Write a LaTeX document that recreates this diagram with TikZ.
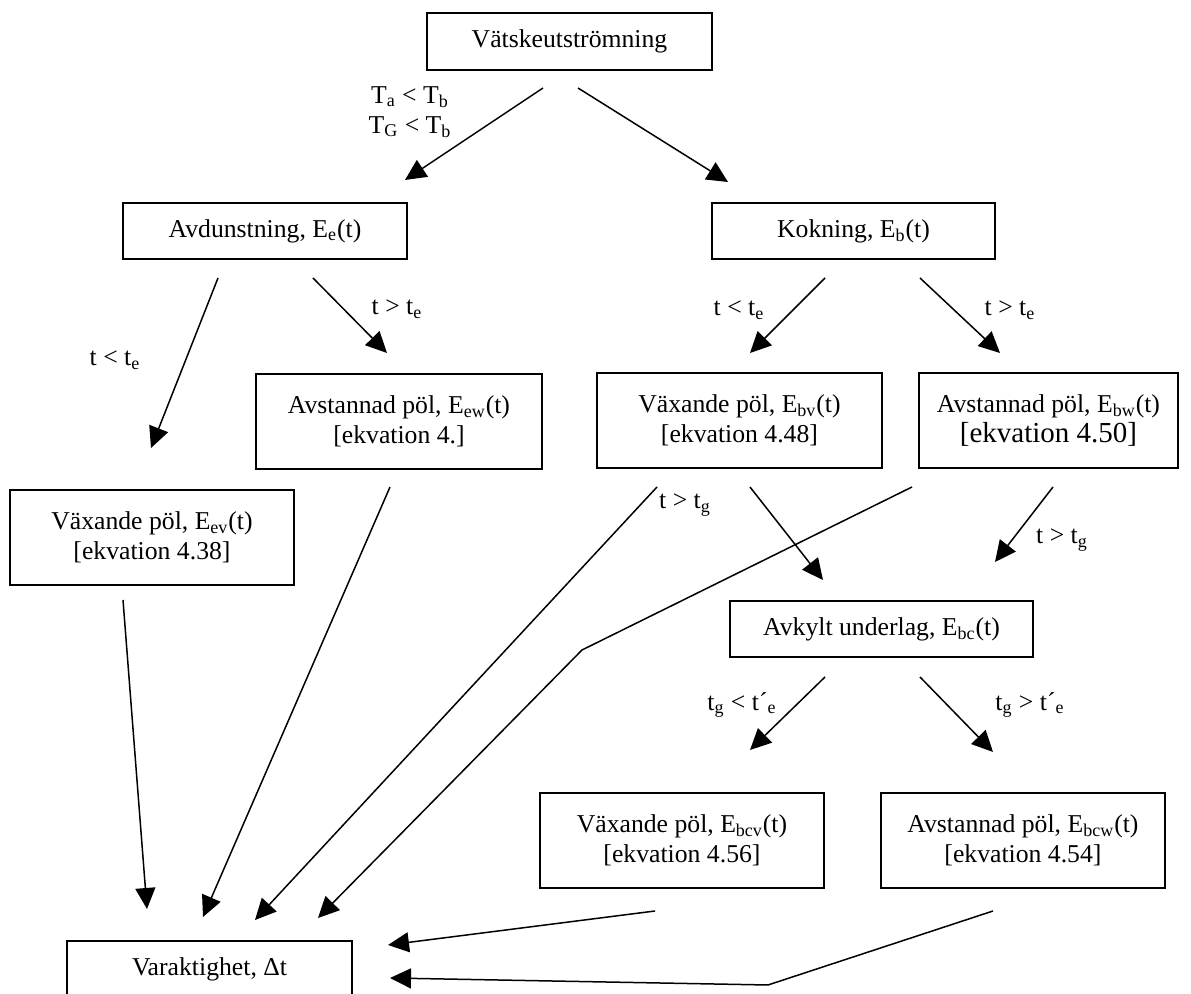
\documentclass[tikz,border=0pt]{standalone}
\usepackage{fontspec}
\setmainfont{Liberation Serif}
\usetikzlibrary{arrows.meta}
\begin{document}
\begin{tikzpicture}[x=0.5pt,y=-0.5pt,
 box/.style={draw, line width=0.75pt, align=center, inner sep=0pt, font=\fontsize{12.85}{15}\selectfont},
 arr/.style={line width=0.75pt, -{Triangle[length=10.5pt,width=10pt]}},
 ln/.style={line width=0.75pt},
 lbl/.style={font=\fontsize{12.85}{15}\selectfont, inner sep=0pt, align=center}]
\useasboundingbox (0,0) rectangle (1191,994);
% boxes
\node[box, minimum width=142.5pt, minimum height=28.5pt] (vat) at (569.5,41.5) {Vätskeutströmning};
\node[box, minimum width=142pt, minimum height=28pt] (avd) at (265,231) {Avdunstning, E\textsubscript{e}(t)};
\node[box, minimum width=141.5pt, minimum height=28pt] (kok) at (853.5,231) {Kokning, E\textsubscript{b}(t)};
\node[box, minimum width=143pt, minimum height=47.5pt] (eew) at (399,421.5) {Avstannad pöl, E\textsubscript{ew}(t)\\{}[ekvation 4.]};
\node[box, minimum width=142.5pt, minimum height=47.5pt] (ebv) at (739.5,420.5) {Växande pöl, E\textsubscript{bv}(t)\\{}[ekvation 4.48]};
\node[box, minimum width=129.5pt, minimum height=47.5pt] (ebw) at (1048.5,420.5) {Avstannad pöl, E\textsubscript{bw}(t)\\{\fontsize{14.5}{15}\selectfont [ekvation 4.50]}};
\node[box, minimum width=142pt, minimum height=47.5pt] (eev) at (152,537.5) {Växande pöl, E\textsubscript{ev}(t)\\{}[ekvation 4.38]};
\node[box, minimum width=151.5pt, minimum height=28pt] (abc) at (881.5,629) {Avkylt underlag, E\textsubscript{bc}(t)};
\node[box, minimum width=142pt, minimum height=47.5pt] (bcv) at (682,840.5) {Växande pöl, E\textsubscript{bcv}(t)\\{}[ekvation 4.56]};
\node[box, minimum width=142pt, minimum height=47.5pt] (bcw) at (1023,840.5) {Avstannad pöl, E\textsubscript{bcw}(t)\\{}[ekvation 4.54]};
\node[box, minimum width=142.5pt, minimum height=28.5pt] (var) at (209.5,969.5) {Varaktighet, Δt};
% labels
\node[lbl] (l0) at (410,112) {T\textsubscript{a} < T\textsubscript{b}\\T\textsubscript{G} < T\textsubscript{b}};
\node[lbl] (l1) at (115,360) {t < t\textsubscript{e}};
\node[lbl] (l2) at (397,309) {t > t\textsubscript{e}};
\node[lbl] (l3) at (739,310) {t < t\textsubscript{e}};
\node[lbl] (l4) at (1010,310) {t > t\textsubscript{e}};
\node[lbl] (l5) at (685,505) {t > t\textsubscript{g}};
\node[lbl] (l6) at (1062,540) {t > t\textsubscript{g}};
\node[lbl] (l7) at (742,705) {t\textsubscript{g} < t´\textsubscript{e}};
\node[lbl] (l8) at (1030,705) {t\textsubscript{g} > t´\textsubscript{e}};
% connector end points
\coordinate (a1s) at (543,88);   \coordinate (a1e) at (405,180);
\coordinate (a2s) at (578,88);   \coordinate (a2e) at (728,182);
\coordinate (a3s) at (218,278);  \coordinate (a3e) at (151,448);
\coordinate (a4s) at (313,278);  \coordinate (a4e) at (387,353);
\coordinate (a5s) at (825,278);  \coordinate (a5e) at (750,353);
\coordinate (a6s) at (920,278);  \coordinate (a6e) at (1000,353);
\coordinate (a7s) at (123,600);  \coordinate (a7e) at (147,909);
\coordinate (a8s) at (390,487);  \coordinate (a8e) at (203,917);
\coordinate (a9s) at (657,487);  \coordinate (a9e) at (255,920);
\coordinate (a10s) at (912,487); \coordinate (a10k) at (582,650); \coordinate (a10e) at (318,918);
\coordinate (a11s) at (750,487); \coordinate (a11e) at (823,580);
\coordinate (a12s) at (1053,487);\coordinate (a12e) at (995,562);
\coordinate (a13s) at (825,677); \coordinate (a13e) at (750,750);
\coordinate (a14s) at (920,677); \coordinate (a14e) at (993,752);
\coordinate (a15s) at (655,911); \coordinate (a15e) at (388,945);
\coordinate (a16s) at (993,911); \coordinate (a16k) at (768,985); \coordinate (a16e) at (390,978);
% connectors
\draw[arr] (a1s) -- (a1e);
\draw[arr] (a2s) -- (a2e);
\draw[arr] (a3s) -- (a3e);
\draw[arr] (a4s) -- (a4e);
\draw[arr] (a5s) -- (a5e);
\draw[arr] (a6s) -- (a6e);
\draw[arr] (a7s) -- (a7e);
\draw[arr] (a8s) -- (a8e);
\draw[arr] (a9s) -- (a9e);
\draw[arr] (a10s) -- (a10k) -- (a10e);
\draw[arr] (a11s) -- (a11e);
\draw[arr] (a12s) -- (a12e);
\draw[arr] (a13s) -- (a13e);
\draw[arr] (a14s) -- (a14e);
\draw[arr] (a15s) -- (a15e);
\draw[arr] (a16s) -- (a16k) -- (a16e);
\end{tikzpicture}
\end{document}
